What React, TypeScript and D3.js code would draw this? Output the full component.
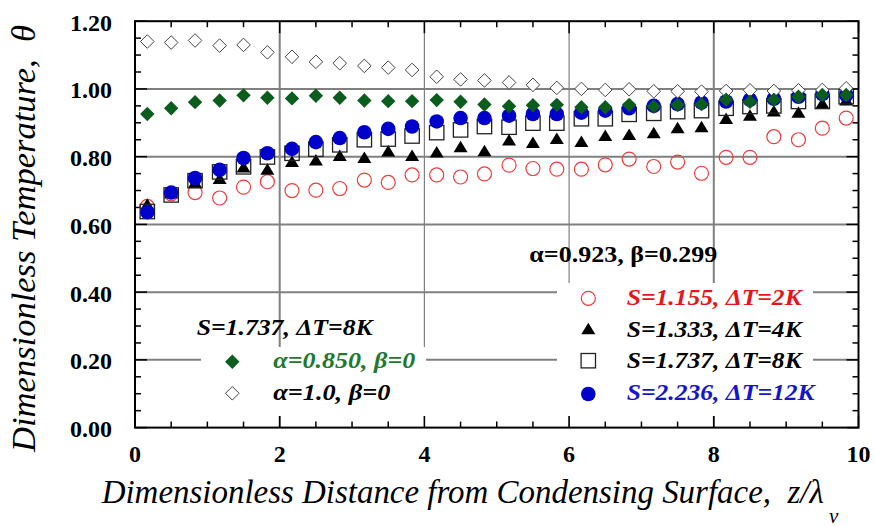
import React from "react";
import * as d3 from "d3";

const xValues = [0.17, 0.5, 0.83, 1.17, 1.5, 1.83, 2.17, 2.5, 2.83, 3.17, 3.5, 3.83, 4.17, 4.5, 4.83, 5.17, 5.5, 5.83, 6.17, 6.5, 6.83, 7.17, 7.5, 7.83, 8.17, 8.5, 8.83, 9.17, 9.5, 9.83];

const alpha10 = [1.140, 1.137, 1.143, 1.128, 1.130, 1.108, 1.095, 1.080, 1.076, 1.068, 1.063, 1.056, 1.036, 1.028, 1.025, 1.019, 1.012, 1.003, 1.000, 0.997, 0.999, 0.993, 0.993, 0.992, 0.994, 0.996, 0.994, 0.996, 0.997, 1.002];
const alpha085 = [0.926, 0.943, 0.961, 0.966, 0.981, 0.974, 0.972, 0.980, 0.974, 0.966, 0.964, 0.964, 0.967, 0.962, 0.954, 0.949, 0.952, 0.953, 0.946, 0.946, 0.953, 0.948, 0.953, 0.955, 0.968, 0.962, 0.968, 0.977, 0.982, 0.982];
const s2236 = [0.636, 0.694, 0.737, 0.761, 0.796, 0.810, 0.823, 0.843, 0.855, 0.872, 0.882, 0.889, 0.904, 0.914, 0.914, 0.921, 0.926, 0.926, 0.930, 0.936, 0.943, 0.950, 0.955, 0.960, 0.963, 0.968, 0.971, 0.977, 0.985, 0.982];
const s1737 = [0.638, 0.687, 0.729, 0.755, 0.770, 0.799, 0.810, 0.822, 0.835, 0.850, 0.852, 0.861, 0.871, 0.879, 0.889, 0.887, 0.899, 0.899, 0.912, 0.912, 0.925, 0.928, 0.933, 0.936, 0.943, 0.948, 0.950, 0.963, 0.963, 0.977];
const s1333 = [0.658, 0.692, 0.722, 0.734, 0.768, 0.761, 0.784, 0.789, 0.802, 0.796, 0.815, 0.802, 0.812, 0.828, 0.816, 0.848, 0.840, 0.852, 0.843, 0.861, 0.864, 0.869, 0.884, 0.887, 0.911, 0.921, 0.933, 0.930, 0.956, 0.966];
const s1155 = [0.653, 0.690, 0.694, 0.678, 0.710, 0.726, 0.700, 0.701, 0.706, 0.731, 0.724, 0.746, 0.746, 0.740, 0.749, 0.775, 0.765, 0.763, 0.763, 0.776, 0.793, 0.771, 0.784, 0.751, 0.798, 0.798, 0.859, 0.850, 0.884, 0.914];

const xTicks = [0, 2, 4, 6, 8, 10];
const yTicks = [0, 0.2, 0.4, 0.6, 0.8, 1.0, 1.2];

const RED = "#ee3b3b";
const BLUE = "#0000cc";
const GREEN = "#0b5d1e";
const GREEN_TEXT = "#1f7a2f";
const FONT = "Liberation Serif, Times New Roman, Times, serif";

type Shape = "circleOpen" | "circleFilled" | "triangle" | "square" | "diamondFilled" | "diamondOpen";

function Marker({ shape, cx, cy }: { shape: Shape; cx: number; cy: number }) {
  const t = `translate(${cx},${cy})`;
  switch (shape) {
    case "circleOpen":
      return <circle cx={cx} cy={cy} r={7} fill="none" stroke={RED} strokeWidth={1.2} />;
    case "circleFilled":
      return <circle cx={cx} cy={cy} r={7.3} fill={BLUE} />;
    case "triangle":
      return <path transform={t} d="M0,-6.5L7,5L-7,5Z" fill="#000" />;
    case "square":
      return <rect x={cx - 7.2} y={cy - 7.2} width={14.4} height={14.4} fill="none" stroke="#222" strokeWidth={1.3} />;
    case "diamondFilled":
      return <path transform={t} d="M0,-7.2L7.2,0L0,7.2L-7.2,0Z" fill={GREEN} />;
    case "diamondOpen":
      return <path transform={t} d="M0,-6.8L6.8,0L0,6.8L-6.8,0Z" fill="#fff" stroke="#444" strokeWidth={1} />;
  }
  return null;
}

const txt = (extra: React.CSSProperties = {}): React.CSSProperties => ({ fontFamily: FONT, ...extra });

export default function App() {
  const x = d3.scaleLinear().domain([0, 10]).range([135, 858.5]);
  const y = d3.scaleLinear().domain([0, 1.2]).range([427.6, 21.2]);
  const [x0, x1] = x.range();
  const [yb, yt] = y.range();

  const minorX = d3.range(0, 10.001, 0.5);
  const minorY = d3.range(0, 1.2001, 0.05);

  const series: { data: number[]; shape: Shape }[] = [
    { data: s1155, shape: "circleOpen" },
    { data: s1333, shape: "triangle" },
    { data: s1737, shape: "square" },
    { data: s2236, shape: "circleFilled" },
    { data: alpha10, shape: "diamondOpen" },
    { data: alpha085, shape: "diamondFilled" },
  ];

  const isMajorX = (v: number) => Math.abs(v / 2 - Math.round(v / 2)) < 1e-6;
  const isMajorY = (v: number) => Math.abs(v / 0.2 - Math.round(v / 0.2)) < 1e-6;

  const bi = txt({ fontWeight: "bold", fontStyle: "italic", fontSize: "24px" });

  return (
    <svg width={875} height={527} style={{ position: "absolute", left: 0, top: 0, background: "#fff" }}>
      <rect x={0} y={0} width={875} height={527} fill="#fff" />
      {yTicks.filter((v) => v > 0 && v < 1.2).map((v) => (
        <line key={"gy" + v} x1={x0} x2={x1} y1={y(v)} y2={y(v)} stroke="#808080" strokeWidth={2} />
      ))}
      {xTicks.filter((v) => v > 0 && v < 10).map((v) => (
        <line key={"gx" + v} x1={x(v)} x2={x(v)} y1={yt} y2={yb} stroke="#808080" strokeWidth={v === 4 || v === 6 ? 1.2 : 2} />
      ))}
      {minorX.map((v) => {
        const len = isMajorX(v) ? 12 : 6;
        return (
          <g key={"tx" + v}>
            <line x1={x(v)} x2={x(v)} y1={yb} y2={yb - len} stroke="#000" strokeWidth={1.5} />
            <line x1={x(v)} x2={x(v)} y1={yt} y2={yt + len} stroke="#000" strokeWidth={1.5} />
          </g>
        );
      })}
      {minorY.map((v) => {
        const len = isMajorY(v) ? 12 : 6;
        return (
          <g key={"ty" + v}>
            <line x1={x0} x2={x0 + len} y1={y(v)} y2={y(v)} stroke="#000" strokeWidth={1.5} />
            <line x1={x1} x2={x1 - len} y1={y(v)} y2={y(v)} stroke="#000" strokeWidth={1.5} />
          </g>
        );
      })}
      <rect x={201} y={347} width={225} height={69} fill="#fff" />
      <rect x={557} y={283} width={256} height={133} fill="#fff" />
      <rect x={x0} y={yt} width={x1 - x0} height={yb - yt} fill="none" stroke="#000" strokeWidth={2} />
      {series.map((s, si) => (
        <g key={"s" + si}>
          {s.data.map((v, i) => (
            <Marker key={i} shape={s.shape} cx={x(xValues[i])} cy={y(v)} />
          ))}
        </g>
      ))}
      {xTicks.map((v) => (
        <text key={"xl" + v} x={x(v)} y={461.7} textAnchor="middle" style={txt({ fontSize: "24px", fontWeight: "bold" })}>{v}</text>
      ))}
      {yTicks.map((v) => (
        <text key={"yl" + v} x={112} y={y(v) + 9.5} textAnchor="end" style={txt({ fontSize: "24px", fontWeight: "bold" })}>{v.toFixed(2)}</text>
      ))}
      <text style={txt({ fontSize: "34px", fontStyle: "italic" })}>
        <tspan x={101.7} y={503.3} textLength={722} lengthAdjust="spacingAndGlyphs">
          {"Dimensionless Distance from Condensing Surface,\u00a0\u00a0z/\u03bb"}
        </tspan>
        <tspan x={829} y={523} style={{ fontSize: "21px" }}>v</tspan>
      </text>
      <text transform="rotate(-90)" x={-452} y={35} style={txt({ fontSize: "33px", fontStyle: "italic" })} textLength={427} lengthAdjust="spacingAndGlyphs">
        {"Dimensionless Temperature,\u00a0\u00a0\u03b8"}
      </text>
      <text x={196.7} y={335} style={bi} textLength={176} lengthAdjust="spacingAndGlyphs">{"S=1.737, \u0394T=8K"}</text>
      <Marker shape="diamondFilled" cx={232.3} cy={361.7} />
      <text x={273.3} y={368.3} style={bi} fill={GREEN_TEXT} textLength={142} lengthAdjust="spacingAndGlyphs">{"\u03b1=0.850, \u03b2=0"}</text>
      <Marker shape="diamondOpen" cx={232.3} cy={393.3} />
      <text x={273.3} y={400} style={bi} textLength={117} lengthAdjust="spacingAndGlyphs">{"\u03b1=1.0, \u03b2=0"}</text>
      <text x={529.3} y={261.7} style={txt({ fontSize: "24px", fontWeight: "bold" })} textLength={188} lengthAdjust="spacingAndGlyphs">{"\u03b1=0.923, \u03b2=0.299"}</text>
      <Marker shape="circleOpen" cx={588.3} cy={298.3} />
      <text x={626.7} y={305} style={bi} fill="#e8141b" textLength={175} lengthAdjust="spacingAndGlyphs">{"S=1.155, \u0394T=2K"}</text>
      <Marker shape="triangle" cx={588.3} cy={329.3} />
      <text x={626.7} y={336.7} style={bi} textLength={175} lengthAdjust="spacingAndGlyphs">{"S=1.333, \u0394T=4K"}</text>
      <Marker shape="square" cx={588.3} cy={360.7} />
      <text x={626.7} y={368.3} style={bi} textLength={175} lengthAdjust="spacingAndGlyphs">{"S=1.737, \u0394T=8K"}</text>
      <Marker shape="circleFilled" cx={588.3} cy={394} />
      <text x={626.7} y={400} style={bi} fill="#1515cc" textLength={188} lengthAdjust="spacingAndGlyphs">{"S=2.236, \u0394T=12K"}</text>
    </svg>
  );
}
